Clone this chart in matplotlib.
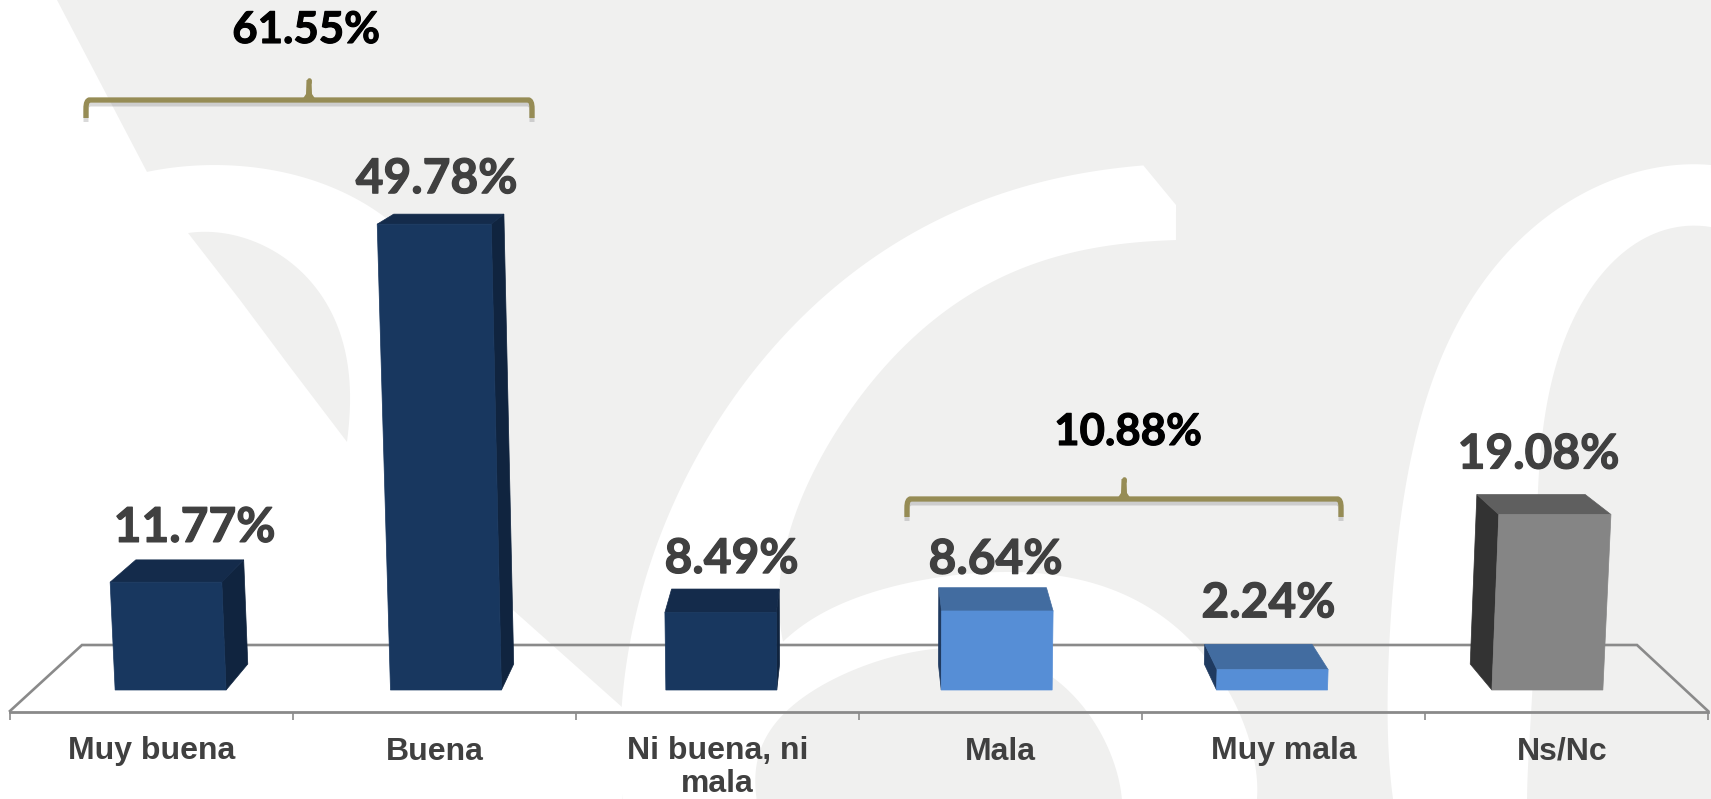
import numpy as np
import matplotlib
matplotlib.use('Agg')
import matplotlib.pyplot as plt
import matplotlib.patheffects as pe
from matplotlib.transforms import ScaledTranslation

categorias = ['Muy buena', 'Buena', 'Ni buena, ni\nmala', 'Mala', 'Muy mala', 'Ns/Nc']
valores = [11.77, 49.78, 8.49, 8.64, 2.24, 19.08]
total_buena = '61.55%'
total_mala = '10.88%'

# front, top, side
navy = ('#18375f', '#142b4b', '#10243f')
azul = ('#568ed6', '#426ca0', '#1f3a60')
gris = ('#858585', '#5f5f5f', '#333333')
colores = [navy, navy, navy, azul, azul, gris]

# label offsets in px from the top of each bar
label_dx = [43, 2, 14, -5, -15, -28]
label_dy = [18, 21, 16, 14, 27, 26]

W, H = 1711, 799
FONDO = '#f0f0ef'
TEXTO = '#404040'
LINEA = '#8a8a8a'
ORO = '#968c55'


def suave(pts, n=3):
    # corner cutting, keeps both ends
    pts = np.array(pts, dtype=float)
    for _ in range(n):
        a = pts[:-1] * 0.75 + pts[1:] * 0.25
        b = pts[:-1] * 0.25 + pts[1:] * 0.75
        medio = np.empty((len(a) * 2, 2))
        medio[0::2] = a
        medio[1::2] = b
        pts = np.vstack([pts[0], medio, pts[-1]])
    return pts


def curva(pts, grado=5):
    # smooth outline of the logo shapes: polynomial through the read points
    pts = np.array(pts, dtype=float)
    t = np.r_[0, np.cumsum(np.hypot(*np.diff(pts, axis=0).T))]
    t = t / t[-1]
    tt = np.linspace(0, 1, 120)
    return np.c_[np.polyval(np.polyfit(t, pts[:, 0], grado), tt),
                 np.polyval(np.polyfit(t, pts[:, 1], grado), tt)]


fig = plt.figure(figsize=(W / 100, H / 100), dpi=100, facecolor='white')

# background in pixel coordinates
bg = fig.add_axes([0, 0, 1, 1], zorder=0)
bg.set_xlim(0, W)
bg.set_ylim(H, 0)
bg.axis('off')
bg.fill([0, W, W, 0], [0, 0, H, H], color=FONDO, lw=0)

blanco_izq = np.vstack([
    [[0, 0], [57, 0]],
    [[147, 172]],
    curva([[147, 172], [233, 165], [317, 183], [377, 210], [410, 240]], 3),
    [[513, 610], [623, 708], [622, 799], [0, 799]],
])
bg.fill(blanco_izq[:, 0], blanco_izq[:, 1], color='white', lw=0)

hoja = np.vstack([
    curva([[188, 233], [233, 235], [283, 257], [320, 293], [343, 343], [350, 400], [347, 442]], 4),
    [[290, 367], [240, 300]],
])
bg.fill(hoja[:, 0], hoja[:, 1], color=FONDO, lw=0)

blanco_centro = np.vstack([
    curva([[1143, 165], [1067, 177], [1000, 195], [900, 237], [833, 290], [767, 357], [717, 423],
           [687, 477], [650, 557], [633, 627], [623, 707], [622, 799]], 5),
    curva([[757, 799], [767, 733], [800, 700], [867, 667], [900, 653], [980, 650], [1063, 683],
           [1113, 767], [1123, 799]], 5),
    curva([[1257, 799], [1213, 667], [1147, 607], [1047, 573], [947, 577], [900, 585], [833, 607], [783, 642]], 5),
    curva([[783, 642], [787, 543], [807, 483], [833, 437], [877, 377], [933, 320], [1000, 277], [1033, 265],
           [1100, 247], [1176, 240]], 5),
    [[1176, 205]],
])
bg.fill(blanco_centro[:, 0], blanco_centro[:, 1], color='white', lw=0)

blanco_der = np.vstack([
    curva([[1711, 165], [1633, 173], [1567, 203], [1510, 250], [1467, 307], [1433, 373], [1420, 430],
           [1400, 517], [1390, 633], [1393, 799]], 5),
    curva([[1527, 799], [1532, 700], [1537, 477], [1545, 430], [1557, 363], [1577, 310], [1617, 257],
           [1667, 230], [1711, 227]], 5),
])
bg.fill(blanco_der[:, 0], blanco_der[:, 1], color='white', lw=0)

# floor
bg.plot([10, 82, 1637, 1708], [711, 645, 645, 711], color=LINEA, lw=1.9, solid_joinstyle='miter')

negrita = [pe.withStroke(linewidth=0.8, foreground='black')]
negrita_gris = [pe.withStroke(linewidth=0.9, foreground=TEXTO)]


def llave(x0, x1, xm, ytip, y, yend, texto, xt, yt):
    izq = suave([[x0, yend], [x0, y], [x0 + 8, y]], 2)
    der = suave([[x1 - 8, y], [x1, y], [x1, yend]], 2)
    xs = np.r_[izq[:, 0], der[:, 0]]
    ys = np.r_[izq[:, 1], der[:, 1]]
    bg.plot(xs, ys + 4, color='#555555', alpha=0.22, lw=3.6, solid_capstyle='butt')
    bg.plot(xs, ys, color=ORO, lw=3.8, solid_capstyle='butt')
    bg.fill([xm - 2.5, xm - 3, xm - 7, xm + 7, xm + 3, xm + 2.5], [ytip, y - 6, y, y, y - 6, ytip], color=ORO, lw=0)
    bg.plot([xm, xm], [ytip, ytip + 2], color=ORO, lw=3.4, solid_capstyle='round')
    bg.text(xt, yt, texto, ha='center', va='baseline', color='black', fontsize=31.5,
            fontweight='bold', family='Lato', path_effects=negrita)


llave(86, 532, 309, 80, 100, 118, total_buena, 306, 43)
llave(907, 1341, 1124, 479, 499, 517, total_mala, 1128, 445)

# chart axes: the bottom spine is the floor's front edge
ESC = 9.1
ax = fig.add_axes([10 / W, (H - 711.5) / H, 1698 / W, 711.5 / H], zorder=1)
ax.patch.set_alpha(0)
ax.set_xlim(-0.5, 5.5)
ax.set_ylim(-21.5 / ESC, 690 / ESC)
for lado in ['top', 'left', 'right']:
    ax.spines[lado].set_visible(False)
ax.spines['bottom'].set_color(LINEA)
ax.spines['bottom'].set_linewidth(2.0)
ax.set_yticks([])
ax.set_xticks(range(len(categorias)))
ax.set_xticklabels(categorias, fontsize=23, fontweight='bold', color=TEXTO, family='Liberation Sans',
                   linespacing=1.12)
ax.tick_params(axis='x', which='major', length=0, pad=18)
ax.set_xticks(np.arange(-0.5, 6), minor=True)
ax.tick_params(axis='x', which='minor', length=6, width=1.2, color=LINEA)
ns = ax.get_xticklabels()[-1]
ns.set_transform(ns.get_transform() + ScaledTranslation(-4 / 100, 0, fig.dpi_scale_trans))

PERSP = 5.7e-4
PROF = 0.0343
VY = 758 / ESC
CENTRO = 2.5
ESC_FRENTE = 0.973
MEDIO = 0.196


def punto(x, v, fondo=False):
    s = 1 + PERSP * v
    xx = CENTRO + (x - CENTRO) * s
    yy = v * s
    if fondo:
        xx += PROF * (CENTRO - xx)
        yy += PROF * (VY - yy)
    return xx, yy


for i, (v, col) in enumerate(zip(valores, colores)):
    xc = CENTRO + (i - CENTRO) * ESC_FRENTE
    xl, xr = xc - MEDIO, xc + MEDIO
    frente = [punto(xl, 0), punto(xr, 0), punto(xr, v), punto(xl, v)]
    tapa = [punto(xl, v), punto(xr, v), punto(xr, v, True), punto(xl, v, True)]
    xs = xr if i < CENTRO else xl
    lado = [punto(xs, 0), punto(xs, v), punto(xs, v, True), punto(xs, 0, True)]
    for cara, c in ((lado, col[2]), (tapa, col[1]), (frente, col[0])):
        ax.fill(*zip(*cara), color=c, lw=0.5, clip_on=False)
    ax.annotate(f'{v:.2f}%', xy=(i, punto(xs, v, True)[1]), xytext=(label_dx[i], label_dy[i]),
                textcoords='offset pixels', ha='center', va='baseline', color=TEXTO,
                fontsize=34.5, fontweight='bold', family='Lato', path_effects=negrita_gris)

fig.savefig('out.png', dpi=100, facecolor='white')
